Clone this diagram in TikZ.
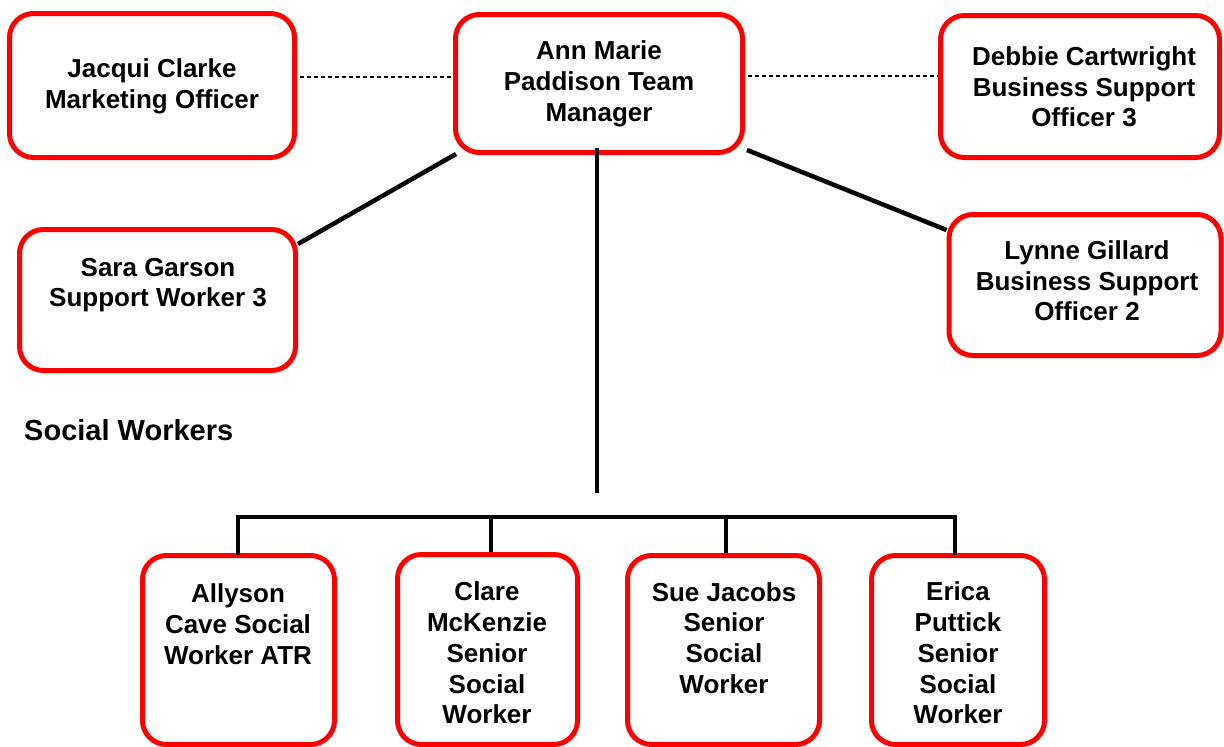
\documentclass[tikz,border=0pt]{standalone}
\usepackage{fontspec}
\setmainfont{Liberation Sans}
\begin{document}
\begin{tikzpicture}[x=1pt,y=-1pt,
  box/.style={draw=red, line width=5pt, rounded corners=24pt, fill=white, inner sep=0pt},
  lbl/.style={font=\fontsize{26}{30.7}\selectfont\bfseries, align=center, inner sep=0pt},
  link/.style={line width=4.5pt, black},
  dotlink/.style={line width=1.2pt, black, dash pattern=on 4pt off 3pt}]
\useasboundingbox (0,0) rectangle (1224,747);
% boxes (minimum size = outer size - line width)
\node[box, minimum width=285pt, minimum height=144pt] (jacqui) at (152,85.5) {};
\node[box, minimum width=287pt, minimum height=138pt] (mgr) at (599,83.5) {};
\node[box, minimum width=279pt, minimum height=142pt] (debbie) at (1080,86.5) {};
\node[box, minimum width=276pt, minimum height=141pt] (sara) at (157.5,300) {};
\node[box, minimum width=272pt, minimum height=141pt] (lynne) at (1085,285) {};
\node[box, minimum width=192pt, minimum height=189pt] (allyson) at (238.5,650) {};
\node[box, minimum width=180pt, minimum height=190pt] (clare) at (487.5,649.5) {};
\node[box, minimum width=192pt, minimum height=189pt] (sue) at (723.5,650) {};
\node[box, minimum width=173pt, minimum height=189pt] (erica) at (958,650) {};
% texts
\node[lbl] (tjacqui) at (152,86) {Jacqui Clarke\\Marketing Officer};
\node[lbl] (tmgr) at (599,84) {Ann Marie\\Paddison Team\\Manager};
\node[lbl] (tdebbie) at (1084,87) {Debbie Cartwright\\Business Support\\Officer 3};
\node[lbl] (tsara) at (158,285) {Sara Garson\\Support Worker 3};
\node[lbl] (tlynne) at (1087,281) {Lynne Gillard\\Business Support\\Officer 2};
\node[lbl] (tallyson) at (238,624) {Allyson\\Cave Social\\Worker ATR};
\node[lbl] (tclare) at (487,653) {Clare\\McKenzie\\Senior\\Social\\Worker};
\node[lbl] (tsue) at (724,638) {Sue Jacobs\\Senior\\Social\\Worker};
\node[lbl] (terica) at (958,653) {Erica\\Puttick\\Senior\\Social\\Worker};
\node[lbl, font=\fontsize{29}{34}\selectfont\bfseries, anchor=west] (tsocial) at (24,430) {Social Workers};
% connector coordinates
\coordinate (mgrdown) at (597,493);
\coordinate (busL) at (238,517);
\coordinate (busR) at (955,517);
\coordinate (dropB) at (491,517);
\coordinate (dropC) at (726,517);
% dashed links
\draw[dotlink] (jacqui.east |- 0,77) ++(3,0) -- (mgr.west |- 0,77);
\draw[dotlink] (mgr.east |- 0,76) ++(3,0) -- (debbie.west |- 0,76);
% solid links
\draw[link] (mgr.south -| mgrdown) ++(0,-7) -- (mgrdown);
\draw[link] (456,154) -- (sara.east |- 0,244);
\draw[link] (747,150) -- (lynne.west |- 0,230);
\draw[link, line cap=rect] (allyson.north -| busL) -- (busL) -- (busR) -- (erica.north -| busR);
\draw[link] (dropB) -- (clare.north -| dropB);
\draw[link] (dropC) -- (sue.north -| dropC);
\end{tikzpicture}
\end{document}
